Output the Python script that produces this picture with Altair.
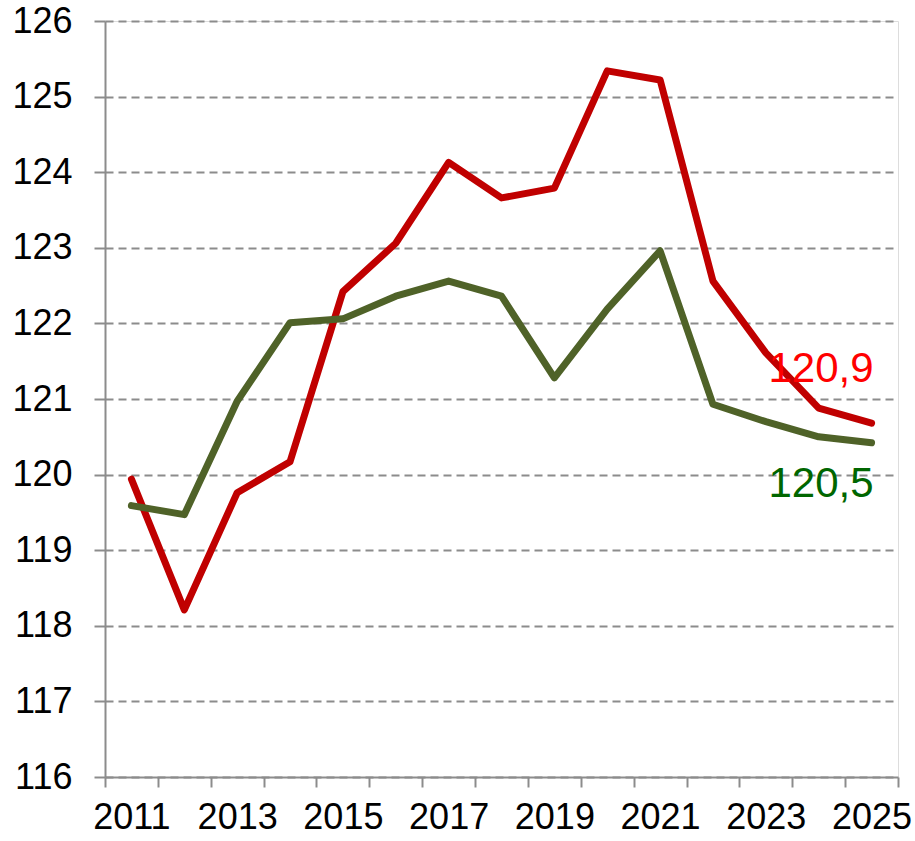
import altair as alt
import pandas as pd

years = [str(y) for y in range(2011, 2026)]
red_values = [119.94, 118.21, 119.76, 120.17, 122.42, 123.06, 124.13, 123.66,
              123.79, 125.34, 125.22, 122.56, 121.61, 120.88, 120.68]
green_values = [119.59, 119.47, 120.97, 122.01, 122.06, 122.36, 122.56, 122.36,
                121.28, 122.19, 122.96, 120.93, 120.70, 120.50, 120.42]
series_names = ["Série 1", "Série 2"]
line_colors = ["#C00000", "#4F6228"]
end_labels = ["120,9", "120,5"]
label_colors = ["#FF0000", "#006600"]
y_ticks = list(range(116, 127))

df_red = pd.DataFrame({"year": years, "value": red_values, "series": series_names[0]})
df_green = pd.DataFrame({"year": years, "value": green_values, "series": series_names[1]})

FONT = "Liberation Sans"
AXIS_GRAY = "#8c8c8c"

x_enc = alt.X(
    "year:O",
    scale=alt.Scale(type="band", paddingInner=0, paddingOuter=0),
    bandPosition=0.5,
    axis=alt.Axis(
        title=None, labelAngle=0, tickBand="extent", ticks=True, tickSize=10,
        tickColor=AXIS_GRAY, tickWidth=2, domainColor=AXIS_GRAY, domainWidth=2,
        labelFontSize=36, labelColor="black", labelFont=FONT, labelPadding=13,
        grid=False,
        labelExpr="toNumber(datum.value) % 2 == 1 ? datum.label : ''",
    ),
)
y_enc = alt.Y(
    "value:Q",
    scale=alt.Scale(domain=[116, 126], nice=False, zero=False),
    axis=alt.Axis(
        values=y_ticks, format="d", title=None, grid=True, gridDash=[8, 5],
        gridColor=AXIS_GRAY, gridWidth=2, tickSize=11, tickColor=AXIS_GRAY,
        tickWidth=2, domainColor=AXIS_GRAY, domainWidth=2, labelFontSize=36,
        labelColor="black", labelFont=FONT, labelPadding=22,
    ),
)

red_line = alt.Chart(df_red).mark_line(
    color=line_colors[0], strokeWidth=7, strokeCap="round", strokeJoin="round"
).encode(x=x_enc, y=y_enc)
green_line = alt.Chart(df_green).mark_line(
    color=line_colors[1], strokeWidth=7, strokeCap="round", strokeJoin="round"
).encode(x=x_enc, y=y_enc)

red_label = alt.Chart(df_red.tail(1).assign(label=end_labels[0])).mark_text(
    font=FONT, fontSize=42, color=label_colors[0], align="right",
    baseline="alphabetic", dx=2, dy=-41
).encode(x=x_enc, y=y_enc, text="label:N")
green_label = alt.Chart(df_green.tail(1).assign(label=end_labels[1])).mark_text(
    font=FONT, fontSize=42, color=label_colors[1], align="right",
    baseline="alphabetic", dx=2, dy=54
).encode(x=x_enc, y=y_enc, text="label:N")

chart = alt.layer(red_line, green_line, red_label, green_label).properties(
    width=793, height=756, autosize="none",
    padding={"left": 105, "top": 21, "right": 17, "bottom": 64},
).configure_view(stroke=None).configure(background="white")

chart.save("out.html", embed_options={"renderer": "svg", "actions": False})
